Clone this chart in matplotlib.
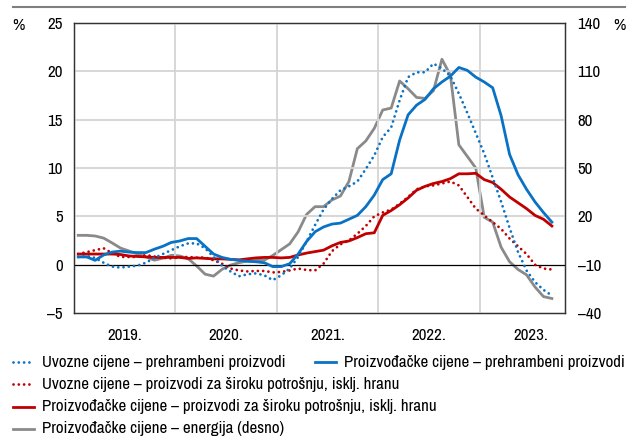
import matplotlib
matplotlib.use('Agg')
import matplotlib.pyplot as plt
from matplotlib.lines import Line2D
from matplotlib import font_manager
import numpy as np

# ---- Data (monthly, Jan 2019 - Sep 2023) ----
years = ['2019.', '2020.', '2021.', '2022.', '2023.']

uv_hrana = [0.8, 0.9, 0.7, 0.2, -0.2, -0.3, -0.2, -0.1, 0.2, 0.7, 1.1, 1.5,
            1.9, 2.2, 2.2, 1.7, 0.8, -0.1, -0.7, -1.2, -1.0, -0.9, -1.1, -1.6,
            -1.1, -0.4, 0.8, 2.4, 4.1, 5.7, 6.8, 7.7, 8.1, 8.6, 9.9, 11.3,
            13.2, 14.2, 17.0, 19.4, 19.9, 19.9, 20.8, 20.3, 19.5, 17.7, 15.7, 13.6,
            11.5, 9.0, 6.5, 3.8, 1.3, -0.6, -1.8, -2.6, -3.2]

pp_hrana = [0.8, 0.8, 0.45, 1.0, 1.3, 1.4, 1.3, 1.25, 1.25, 1.6, 1.9, 2.3,
            2.45, 2.7, 2.7, 1.9, 1.1, 0.75, 0.55, 0.45, 0.35, 0.3, 0.2, -0.2,
            -0.2, 0.1, 1.1, 2.4, 3.4, 3.9, 4.2, 4.3, 4.7, 5.1, 6.0, 7.2,
            8.8, 9.4, 12.9, 15.5, 16.5, 17.1, 18.2, 18.9, 19.5, 20.4, 20.1, 19.4,
            18.9, 18.3, 15.4, 11.4, 9.3, 7.8, 6.5, 5.4, 4.4]

uv_ostalo = [1.1, 1.3, 1.5, 1.7, 1.2, 0.8, 0.8, 0.8, 1.0, 0.85, 0.7, 0.65,
             0.75, 0.8, 0.72, 0.75, 0.45, 0.1, -0.4, -0.6, -0.7, -0.65, -0.65, -0.8,
             -0.75, -0.6, -0.4, -0.55, -0.6, 0.1, 1.4, 2.1, 2.5, 3.2, 4.0, 5.0,
             5.4, 5.7, 6.3, 7.0, 7.8, 8.1, 8.2, 8.4, 8.6, 8.2, 7.0, 5.8,
             5.1, 4.4, 3.7, 2.7, 1.9, 1.1, 0.0, -0.4, -0.5]

pp_ostalo = [1.1, 1.1, 1.1, 1.1, 1.1, 1.05, 0.9, 0.85, 0.8, 0.75, 0.75, 0.75,
             0.75, 0.65, 0.7, 0.65, 0.6, 0.6, 0.55, 0.5, 0.6, 0.7, 0.75, 0.75,
             0.7, 0.75, 1.0, 1.2, 1.35, 1.5, 1.95, 2.3, 2.45, 2.8, 3.2, 3.3,
             5.1, 5.6, 6.2, 6.9, 7.7, 8.1, 8.4, 8.6, 8.9, 9.4, 9.4, 9.45,
             8.8, 8.5, 7.8, 7.0, 6.4, 5.8, 5.1, 4.7, 4.0]

energija = [8.2, 8.2, 7.8, 6.5, 3.5, 0.3, -1.5, -3.4, -5.2, -7.2, -6.0, -4.2,
            -4.6, -6.3, -10.8, -15.9, -17.1, -12.9, -10.3, -8.8, -7.7, -7.4, -7.2, -4.3,
            -0.7, 2.9, 10.4, 21.2, 26.0, 26.0, 30.2, 32.6, 41.6, 62.0, 66.8, 74.6,
            86.0, 87.2, 104.0, 99.2, 93.8, 93.2, 98.0, 117.5, 107.6, 64.4, 57.2, 50.0,
            19.4, 16.4, 0.8, -8.2, -13.0, -16.3, -23.8, -29.8, -31.0]

# ---- Style ----
names = {f.name for f in font_manager.fontManager.ttflist}
FS = 10.3
plt.rcParams['font.family'] = ['Liberation Sans', 'DejaVu Sans']
for fam, size in [('Liberation Sans Narrow', 12.2), ('Archivo Narrow', 12.2),
                  ('Roboto Condensed', 11.8)]:
    if fam in names:
        plt.rcParams['font.family'] = [fam, 'DejaVu Sans']
        FS = size
        break

BLUE = '#0a72c4'
RED = '#c00000'
GREY = '#8a8a8a'
GRID = '#d4d4d4'
DOT = (0, (0.01, 1.9))

x = np.arange(len(pp_hrana))

fig = plt.figure(figsize=(6.35, 4.41), dpi=100)
ax = fig.add_axes([74/635, 1-313/441, (565-74)/635, (313-23)/441])
ax2 = ax.twinx()

ax.set_xlim(-0.5, 57.55)
ax.set_ylim(-5, 25)
ax2.set_ylim(-40, 140)
ax.set_yticks(np.arange(-5, 26, 5))
ax2.set_yticks(np.arange(-40, 141, 30))
ax.set_yticklabels([str(v).replace('-', '\u2013') for v in range(-5, 26, 5)])
ax2.set_yticklabels([str(v).replace('-', '\u2013') for v in range(-40, 141, 30)])

# year gridlines / labels
ax.set_xticks([11.5, 23.5, 35.5, 47.5])
ax.set_xticklabels([])
ax.set_xticks([5.5, 17.5, 29.5, 41.5, 53.5], minor=True)
ax.set_xticklabels(years, minor=True)
ax.tick_params(axis='x', which='both', length=0, pad=11, labelsize=FS)
ax.tick_params(axis='y', length=0, pad=8, labelsize=FS)
ax2.tick_params(axis='y', length=0, pad=9, labelsize=FS)
ax.grid(True, which='major', axis='x', color=GRID, linewidth=1.3)
for v in [5, 10, 15, 20]:
    ax.axhline(v, color=GRID, linewidth=1.3, zorder=0)
ax.axhline(0, color='black', linewidth=0.9, zorder=1)
ax.set_axisbelow(True)

for a in (ax, ax2):
    for s in a.spines.values():
        s.set_color('#333333')
        s.set_linewidth(0.9)

ax2.plot(x, energija, color=GREY, linewidth=2.0, zorder=2)
ax.plot(x, pp_ostalo, color=RED, linewidth=2.0, zorder=3)
ax.plot(x, uv_ostalo, color=RED, linewidth=2.0, linestyle=DOT, dash_capstyle='round', zorder=3)
ax.plot(x, pp_hrana, color=BLUE, linewidth=2.0, zorder=4)
ax.plot(x, uv_hrana, color=BLUE, linewidth=2.0, linestyle=DOT, dash_capstyle='round', zorder=4)
ax.set_zorder(ax2.get_zorder() + 1)
ax.patch.set_visible(False)

# % labels and top rule
fig.text(18/635, 1-25/441, '%', fontsize=FS, ha='center', va='center')
fig.text(619/635, 1-25/441, '%', fontsize=FS, ha='center', va='center')
fig.add_artist(Line2D([13/635, 625/635], [1-7/441, 1-7/441], color='#7f7f7f', linewidth=1.5))

# ---- legend (drawn manually, first row holds two entries) ----
legend_items = [
    ('Uvozne cijene \u2013 prehrambeni proizvodi', BLUE, DOT, 13, 362),
    ('Proizvođačke cijene \u2013 prehrambeni proizvodi', BLUE, '-', 315, 362),
    ('Uvozne cijene \u2013 proizvodi za široku potrošnju, isklj. hranu', RED, DOT, 13, 384),
    ('Proizvođačke cijene \u2013 proizvodi za široku potrošnju, isklj. hranu', RED, '-', 13, 407),
    ('Proizvođačke cijene \u2013 energija (desno)', GREY, '-', 13, 429),
]
for label, col, ls, lx, ly in legend_items:
    yy = 1 - ly/441
    fig.add_artist(Line2D([lx/635, (lx+21)/635], [yy, yy], color=col, linewidth=2.0,
                          linestyle=ls, dash_capstyle='round'))
    fig.text((lx+29)/635, yy, label, fontsize=FS, ha='left', va='center')

fig.savefig('out.png', dpi=100)
